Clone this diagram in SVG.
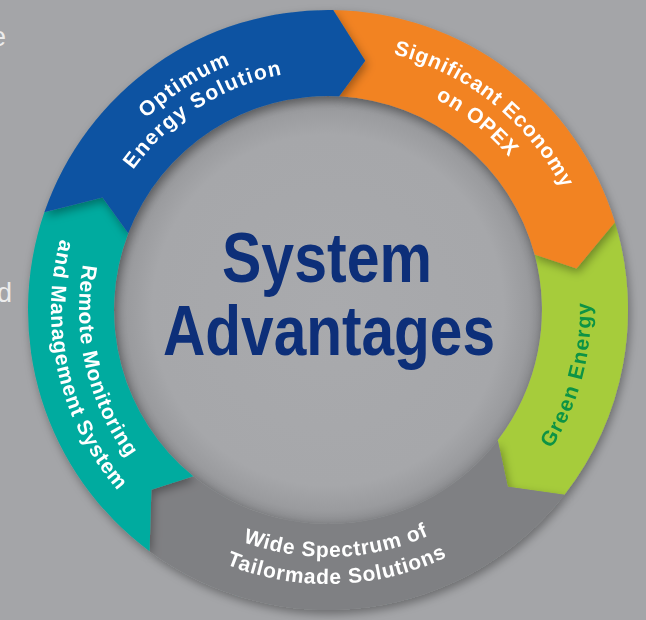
<svg xmlns="http://www.w3.org/2000/svg" width="646" height="620" viewBox="0 0 646 620">
  <style>
    .lbl { font-family: "Liberation Sans", Arial, sans-serif; font-weight: bold; font-size: 21px; letter-spacing: 0.8px; fill: #ffffff; }
    .wide { letter-spacing: 1.4px; }
    .grn { fill: #0b9344; }
    .big { font-family: "Liberation Sans", Arial, sans-serif; font-weight: bold; fill: #0d2f79; }
    .frag { font-family: "Liberation Sans", Arial, sans-serif; font-size: 27px; fill: #ececec; }
  </style>
  <defs>
    <radialGradient id="discGrad" cx="328" cy="310" r="214" gradientUnits="userSpaceOnUse">
      <stop offset="0" stop-color="#a9aaad"/>
      <stop offset="0.82" stop-color="#a6a7aa"/>
      <stop offset="0.94" stop-color="#9a9b9e"/>
      <stop offset="1" stop-color="#8a8b8e"/>
    </radialGradient>
    <filter id="shadow" x="-20%" y="-20%" width="140%" height="140%">
      <feDropShadow dx="2" dy="4" stdDeviation="5" flood-color="#000" flood-opacity="0.35"/>
    </filter>
    <path id="p-blue1" d="M 64.25,321.52 A 264 264 0 0 1 449.90,75.83"/>
    <path id="p-blue2" d="M 88.23,320.47 A 240 240 0 0 1 438.82,97.12"/>
    <path id="p-or1" d="M 231.24,64.37 A 264 264 0 0 1 589.10,349.02"/>
    <path id="p-or2" d="M 241.14,89.49 A 237 237 0 0 1 562.40,345.03"/>
    <path id="p-gr1" d="M 396.07,564.04 A 263 263 0 0 0 513.97,124.03"/>
    <path id="p-gy1" d="M 118.53,440.89 A 247 247 0 0 0 546.09,425.96"/>
    <path id="p-gy2" d="M 95.63,455.20 A 274 274 0 0 0 569.93,438.64"/>
    <path id="p-tl1" d="M 158.18,127.89 A 249 249 0 0 0 255.20,548.12"/>
    <path id="p-tl2" d="M 139.09,107.42 A 277 277 0 0 0 247.01,574.90"/>
  </defs>

  <rect width="646" height="620" fill="#a4a5a8"/>

  <text class="frag" x="-9" y="46">e</text>
  <text class="frag" x="-3" y="302">d</text>

  <g id="center">
    <circle cx="328" cy="310" r="214" fill="url(#discGrad)"/>
    <text class="big" x="327" y="282" font-size="70" text-anchor="middle" textLength="210" lengthAdjust="spacingAndGlyphs">System</text>
    <text class="big" x="329" y="355" font-size="71" text-anchor="middle" textLength="332" lengthAdjust="spacingAndGlyphs">Advantages</text>
  </g>

  <g id="seg-green" filter="url(#shadow)">
    <path d="M 614.89,222.29 A 300 300 0 0 1 564.40,494.70 L 507.74,486.63 L 497.78,440.27 A 214 214 0 0 0 534.71,254.61 L 576.54,268.41 Z" fill="#a6cc3a"/>
    <text class="lbl wide grn"><textPath href="#p-gr1" startOffset="50%" text-anchor="middle">Green Energy</textPath></text>
  </g>

  <g id="seg-gray" filter="url(#shadow)">
    <path d="M 564.40,494.70 A 300 300 0 0 1 149.55,551.16 L 151.37,489.74 L 193.33,476.31 A 214 214 0 0 0 497.78,440.27 L 507.74,486.63 Z" fill="#7f8083"/>
    <text class="lbl"><textPath href="#p-gy1" startOffset="50%" text-anchor="middle">Wide Spectrum of</textPath></text>
    <text class="lbl"><textPath href="#p-gy2" startOffset="50%" text-anchor="middle">Tailormade Solutions</textPath></text>
  </g>

  <g id="seg-teal" filter="url(#shadow)">
    <path d="M 149.55,551.16 A 300 300 0 0 1 44.34,212.33 L 102.48,197.56 L 128.21,233.31 A 214 214 0 0 0 193.33,476.31 L 151.37,489.74 Z" fill="#00ab9f"/>
    <text class="lbl"><textPath href="#p-tl1" startOffset="50%" text-anchor="middle">Remote Monitoring</textPath></text>
    <text class="lbl"><textPath href="#p-tl2" startOffset="50%" text-anchor="middle">and Management System</textPath></text>
  </g>

  <g id="seg-orange" filter="url(#shadow)">
    <path d="M 333.24,10.05 A 300 300 0 0 1 614.89,222.29 L 576.54,268.41 L 534.71,254.61 A 214 214 0 0 0 339.20,96.29 L 365.25,60.77 Z" fill="#f28322"/>
    <text class="lbl"><textPath href="#p-or1" startOffset="50%" text-anchor="middle">Significant Economy</textPath></text>
    <text class="lbl"><textPath href="#p-or2" startOffset="50%" text-anchor="middle">on OPEX</textPath></text>
  </g>

  <g id="seg-blue" filter="url(#shadow)">
    <path d="M 44.34,212.33 A 300 300 0 0 1 333.24,10.05 L 365.25,60.77 L 339.20,96.29 A 214 214 0 0 0 128.21,233.31 L 102.48,197.56 Z" fill="#0b53a2"/>
    <text class="lbl wide"><textPath href="#p-blue1" startOffset="50%" text-anchor="middle">Optimum</textPath></text>
    <text class="lbl wide"><textPath href="#p-blue2" startOffset="50%" text-anchor="middle">Energy Solution</textPath></text>
  </g>
</svg>
